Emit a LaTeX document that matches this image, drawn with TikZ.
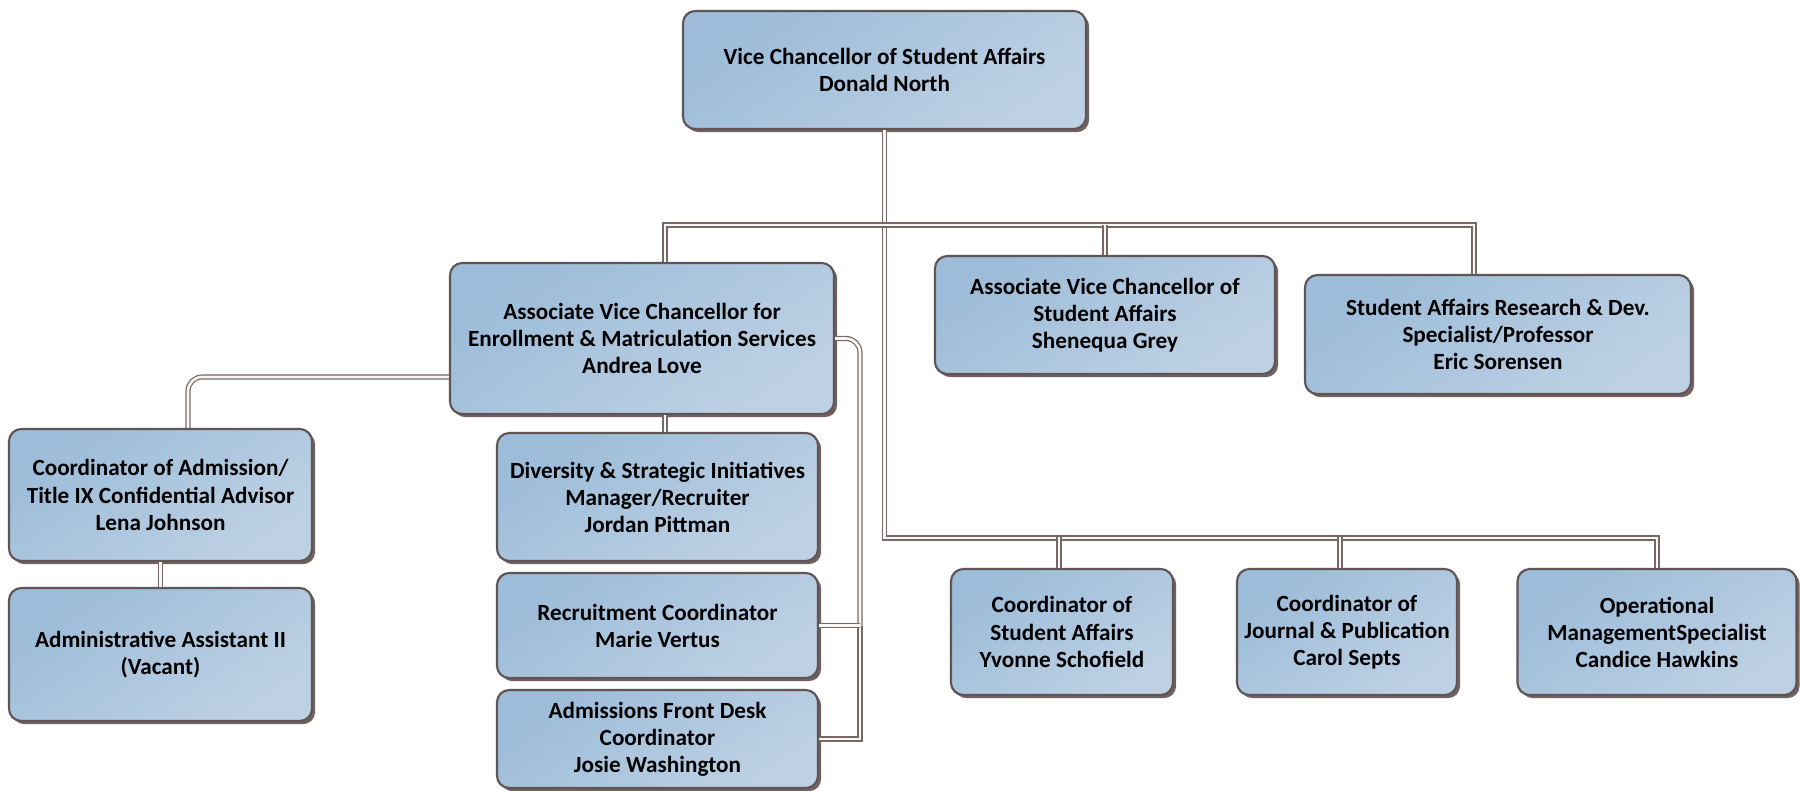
\documentclass[tikz,border=0pt]{standalone}
\usepackage{fontspec}
\setmainfont{Carlito}
\usetikzlibrary{shadows}
\definecolor{boxtop}{RGB}{156,188,217}
\definecolor{boxbot}{RGB}{190,209,228}
\definecolor{boxline}{RGB}{96,84,84}
\definecolor{boxshade}{RGB}{112,98,96}
\definecolor{connline}{RGB}{118,104,102}
\begin{document}
\begin{tikzpicture}[
	box/.style={rectangle, rounded corners=3.5pt, draw=boxline, line width=0.6pt,
		top color=boxtop, bottom color=boxbot, shading angle=35,
		drop shadow={shadow xshift=0.9pt, shadow yshift=-0.9pt, fill=boxshade, opacity=1},
		inner sep=0pt, align=center, text=black,
		font=\fontsize{6.6}{7.7}\selectfont\bfseries},
	conn/.style={draw=connline, line width=0.35pt, double=white!94!brown, double distance=0.75pt}
	]
			%%%%% START %%%%%
			
			\useasboundingbox (0, 0) rectangle (18, 7.9);
			
			\node[box, minimum width=4.03cm, minimum height=1.18cm] (vc) at (8.845, 7.2) {Vice Chancellor of Student Affairs\\Donald North};
			
			\node[box, minimum width=3.84cm, minimum height=1.51cm] (avce) at (6.42, 4.515) {Associate Vice Chancellor for\\Enrollment \& Matriculation Services\\Andrea Love};
			\node[box, minimum width=3.40cm, minimum height=1.18cm] (avcs) at (11.05, 4.75) {Associate Vice Chancellor of\\Student Affairs\\Shenequa Grey};
			\node[box, minimum width=3.86cm, minimum height=1.19cm] (resdev) at (14.98, 4.555) {Student Affairs Research \& Dev.\\Specialist/Professor\\Eric Sorensen};
			
			\node[box, minimum width=3.03cm, minimum height=1.32cm] (admco) at (1.605, 2.95) {Coordinator of Admission/\\Title IX Confidential Advisor\\Lena Johnson};
			\node[box, minimum width=3.03cm, minimum height=1.33cm] (adminasst) at (1.605, 1.355) {Administrative Assistant II\\(Vacant)};
			
			\node[box, minimum width=3.21cm, minimum height=1.28cm] (diversity) at (6.575, 2.93) {Diversity \& Strategic Initiatives\\Manager/Recruiter\\Jordan Pittman};
			\node[box, minimum width=3.21cm, minimum height=1.05cm] (recruit) at (6.575, 1.645) {Recruitment Coordinator\\Marie Vertus};
			\node[box, minimum width=3.21cm, minimum height=0.98cm] (frontdesk) at (6.575, 0.51) {Admissions Front Desk\\Coordinator\\Josie Washington};
			
			\node[box, minimum width=2.22cm, minimum height=1.26cm] (yvonne) at (10.62, 1.58) {Coordinator of\\Student Affairs\\Yvonne Schofield};
			\node[box, minimum width=2.20cm, minimum height=1.26cm] (carol) at (13.47, 1.58) {Coordinator of\\Journal \& Publication\\Carol Septs};
			\node[box, minimum width=2.79cm, minimum height=1.26cm] (oper) at (16.57, 1.58) {Operational\\ManagementSpecialist\\Candice Hawkins};
			
			\coordinate (bus) at (8.845, 5.65);
			\coordinate (lowbus) at (8.845, 2.52);
			\coordinate (rside) at (8.6, 0);
			
			\draw[conn] (vc.south) -- (lowbus) -| (oper.north);
			\draw[conn] ([xshift=0.23cm]avce.north) |- (bus) -| ([xshift=-0.24cm]resdev.north);
			\draw[conn] (bus -| avcs.north) -- (avcs.north);
			\draw[conn] ([xshift=-0.03cm]yvonne.north) -- ++(0, 0.31);
			\draw[conn] ([xshift=-0.07cm]carol.north) -- ++(0, 0.31);
			
			\draw[conn, rounded corners=4pt] ([yshift=-0.385cm]avce.west) -| ([xshift=0.275cm]admco.north);
			\draw[conn] (admco.south) -- (adminasst.north);
			\draw[conn] ([xshift=0.23cm]avce.south) -- ([xshift=0.075cm]diversity.north);
			
			\draw[conn, rounded corners=4pt] (avce.east) -| (rside |- recruit.east);
			\draw[conn] (rside |- recruit.east) |- (frontdesk.east);
			\draw[conn] (recruit.east) -- (rside |- recruit.east);
			
			%%%%% END %%%%%
\end{tikzpicture}
\end{document}
